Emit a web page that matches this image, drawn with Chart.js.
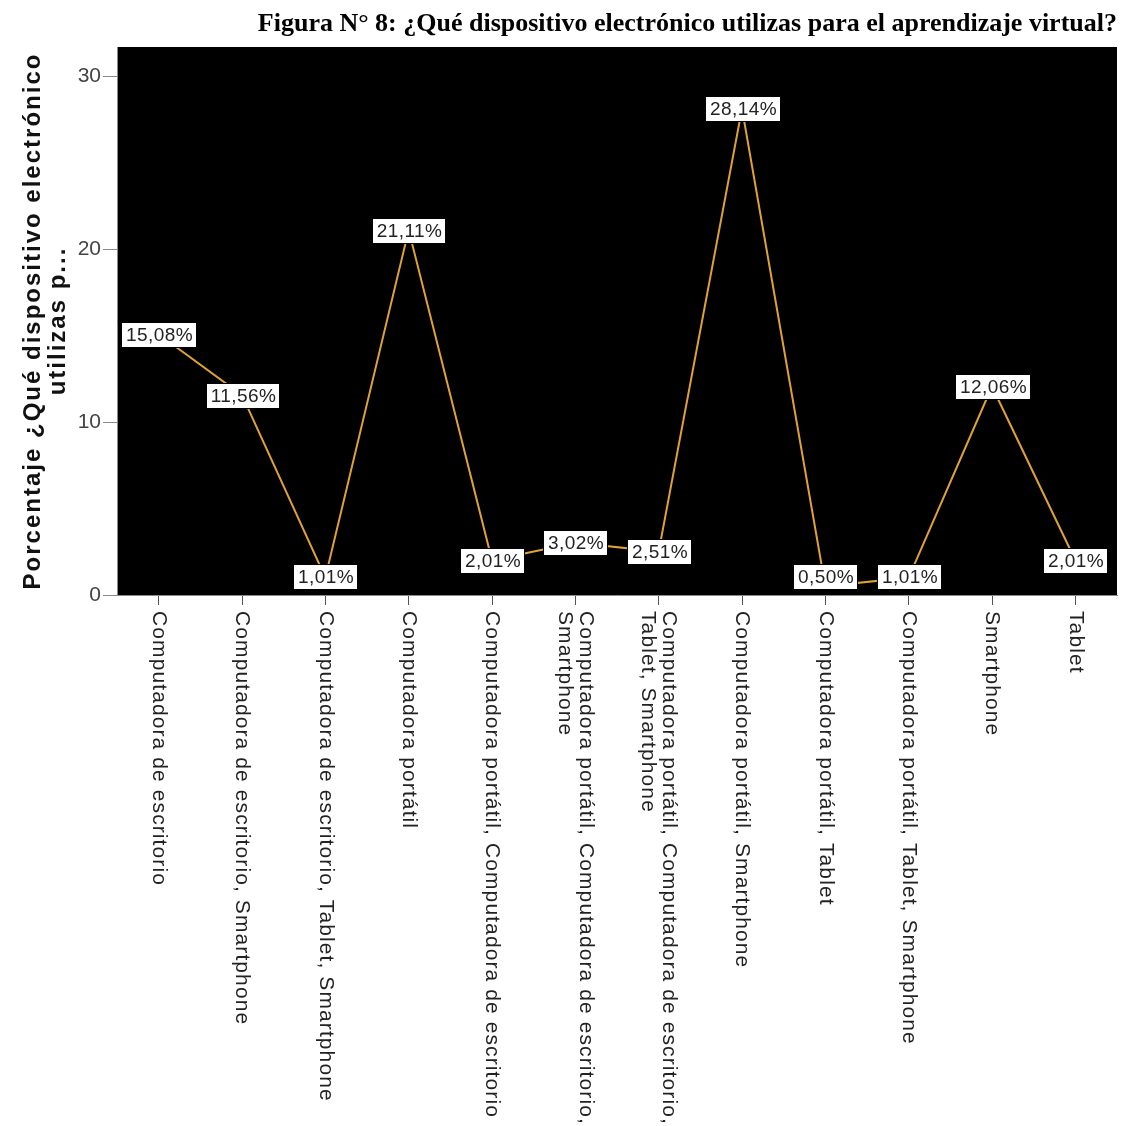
<!DOCTYPE html>
<html>
<head>
<meta charset="utf-8">
<script src="https://cdn.jsdelivr.net/npm/chart.js@4.4.1/dist/chart.umd.min.js"></script>
<style>
html, body { margin: 0; padding: 0; background: #fff; }
</style>
</head>
<body>
<canvas id="graficaDispositivos" width="1123" height="1126"></canvas>
<script>
// Datos
const categorias = [
    ['Computadora de escritorio'],
    ['Computadora de escritorio, Smartphone'],
    ['Computadora de escritorio, Tablet, Smartphone'],
    ['Computadora portátil'],
    ['Computadora portátil, Computadora de escritorio'],
    ['Computadora portátil, Computadora de escritorio,', 'Smartphone'],
    ['Computadora portátil, Computadora de escritorio,', 'Tablet, Smartphone'],
    ['Computadora portátil, Smartphone'],
    ['Computadora portátil, Tablet'],
    ['Computadora portátil, Tablet, Smartphone'],
    ['Smartphone'],
    ['Tablet']
];
const porcentajes = [15.08, 11.56, 1.01, 21.11, 2.01, 3.02, 2.51, 28.14, 0.50, 1.01, 12.06, 2.01];
const ticksY = [0, 10, 20, 30];
const titulo = 'Figura N° 8: ¿Qué dispositivo electrónico utilizas para el aprendizaje virtual?';
const tituloEjeY = ['Porcentaje ¿Qué dispositivo electrónico', 'utilizas p...'];

// fondo negro del area de trazado
const fondoNegro = {
    id: 'fondoNegro',
    beforeDraw(chart) {
        const { ctx, chartArea: a } = chart;
        ctx.save();
        ctx.fillStyle = '#000';
        ctx.fillRect(a.left, a.top, a.right - a.left, a.bottom - a.top);
        ctx.restore();
    }
};

// cajas blancas con el porcentaje
const etiquetasValor = {
    id: 'etiquetasValor',
    afterDatasetsDraw(chart) {
        const { ctx, chartArea: a } = chart;
        const meta = chart.getDatasetMeta(0);
        ctx.save();
        ctx.font = '19px "Liberation Sans", Arial, sans-serif';
        ctx.letterSpacing = '0.4px';
        ctx.textAlign = 'center';
        ctx.textBaseline = 'middle';
        meta.data.forEach((pt, i) => {
            const txt = porcentajes[i].toFixed(2).replace('.', ',') + '%';
            const w = Math.round(ctx.measureText(txt).width + 8);
            const h = 25;
            const x0 = Math.round(pt.x - w / 2);
            let y0 = Math.round(pt.y - h / 2);
            // la caja no sale del area de trazado
            if (y0 + h > a.bottom - 6) y0 = Math.round(a.bottom - 6 - h);
            ctx.fillStyle = '#fff';
            ctx.fillRect(x0, y0, w, h);
            ctx.strokeStyle = '#000';
            ctx.lineWidth = 1;
            ctx.strokeRect(x0 + 0.5, y0 + 0.5, w, h);
            ctx.fillStyle = '#222';
            ctx.fillText(txt, x0 + w / 2 + 1, y0 + h / 2 + 1);
        });
        ctx.restore();
    }
};

// etiquetas del eje X giradas, titulo y titulo del eje Y
const textos = {
    id: 'textos',
    afterDraw(chart) {
        const { ctx, chartArea: a } = chart;
        const escalaX = chart.scales.x;
        ctx.save();
        // eje X
        ctx.font = '21px "Liberation Sans", Arial, sans-serif';
        ctx.letterSpacing = '1.1px';
        ctx.fillStyle = '#222';
        ctx.textAlign = 'left';
        ctx.textBaseline = 'middle';
        categorias.forEach((lineas, i) => {
            const x = escalaX.getPixelForValue(i);
            ctx.save();
            ctx.translate(x, a.bottom + 16);
            ctx.rotate(Math.PI / 2);
            lineas.forEach((linea, j) => {
                ctx.fillText(linea, 0, (j - (lineas.length - 1) / 2) * 21);
            });
            ctx.restore();
        });
        // titulo eje Y
        ctx.font = 'bold 24px "Liberation Sans", Arial, sans-serif';
        ctx.letterSpacing = '2px';
        ctx.fillStyle = '#111';
        ctx.textAlign = 'center';
        ctx.textBaseline = 'middle';
        const cy = (a.top + a.bottom) / 2;
        [33, 58].forEach((x, j) => {
            ctx.save();
            ctx.translate(x, cy);
            ctx.rotate(-Math.PI / 2);
            ctx.fillText(tituloEjeY[j], 0, 0);
            ctx.restore();
        });
        // titulo
        ctx.letterSpacing = '0px';
        ctx.font = 'bold 26px "Liberation Serif", "Times New Roman", serif';
        ctx.fillStyle = '#000';
        ctx.textAlign = 'right';
        ctx.textBaseline = 'alphabetic';
        ctx.fillText(titulo, a.right, 31);
        ctx.restore();
    }
};

const ctx = document.getElementById('graficaDispositivos').getContext('2d');
new Chart(ctx, {
    type: 'line',
    data: {
        labels: categorias,
        datasets: [{
            label: 'Porcentaje',
            data: porcentajes,
            borderColor: '#e0a236',
            borderWidth: 2,
            pointRadius: 0,
            tension: 0
        }]
    },
    options: {
        responsive: false,
        animation: false,
        layout: { padding: { top: 47, right: 6, left: 0, bottom: 0 } },
        plugins: {
            legend: { display: false },
            tooltip: { enabled: false }
        },
        scales: {
            x: {
                offset: true,
                ticks: { display: false },
                grid: { drawOnChartArea: false, tickLength: 10, color: '#555', lineWidth: 1 },
                border: { color: '#888' },
                afterFit: s => { s.height = 531; }
            },
            y: {
                min: 0,
                max: 31.7,
                afterBuildTicks: s => { s.ticks = ticksY.map(v => ({ value: v })); },
                ticks: {
                    font: { family: '"Liberation Sans", Arial, sans-serif', size: 21 },
                    color: '#444',
                    padding: 2
                },
                grid: { drawOnChartArea: false, tickLength: 14, color: '#888' },
                border: { color: '#888' },
                afterFit: s => { s.width = 117; }
            }
        }
    },
    plugins: [fondoNegro, etiquetasValor, textos]
});
</script>
</body>
</html>
